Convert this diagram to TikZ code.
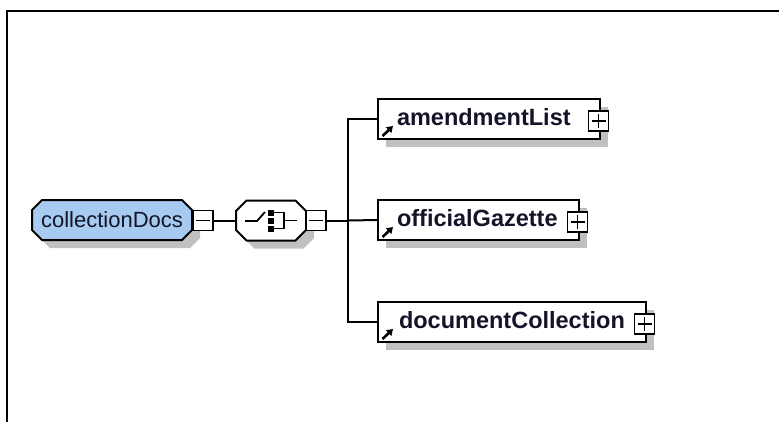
\documentclass[tikz,border=0pt]{standalone}
\usepackage{fontspec}
\setmainfont{Liberation Sans}
\usetikzlibrary{shadows,arrows.meta,calc,backgrounds}
\definecolor{rootblue}{RGB}{166,202,240}
\definecolor{shadowgray}{RGB}{192,192,192}
\definecolor{txt}{RGB}{20,20,40}
\newcommand\octapath[2]{([xshift=#2]#1.north west) -- ([xshift=-#2]#1.north east) -- ([yshift=-#2]#1.north east) -- ([yshift=#2]#1.south east) -- ([xshift=-#2]#1.south east) -- ([xshift=#2]#1.south west) -- ([yshift=#2]#1.south west) -- ([yshift=-#2]#1.north west) -- cycle}
\begin{document}
\begin{tikzpicture}[x=1pt,y=-1pt,
  every node/.style={inner sep=0pt, outer sep=0pt},
  shadowed/.style={drop shadow={shadow xshift=8pt,shadow yshift=-8pt,fill=shadowgray,opacity=1}},
  octbox/.style={rectangle, minimum height=40pt},
  rootfont/.style={font=\fontsize{22}{24}\selectfont, text=txt},
  octline/.style={draw, line width=2pt, shadowed},
  elem/.style={rectangle, draw, line width=2pt, fill=white, minimum height=40pt, shadowed},
  elemtext/.style={font=\bfseries\fontsize{23.5}{25}\selectfont, text=txt, anchor=base west},
  pmbox/.style={rectangle, draw, line width=1.6pt, fill=white, minimum size=20pt},
  conn/.style={line width=2pt},
  sign/.style={line width=1.6pt},
  refarrow/.style={line width=2.6pt, -{Triangle[length=6pt,width=7.5pt]}},
  symb/.style={line width=1.8pt}
]
\useasboundingbox (0,0) rectangle (779,421);
% frame
\draw[line width=2pt] (7,430) -- (7,11) -- (790,11);

% root element
\node[octbox, rootfont, minimum width=160pt] (root) at (112,220) {collectionDocs};
\begin{pgfonlayer}{background}
\path[octline, fill=rootblue] \octapath{root}{10pt};
\end{pgfonlayer}
\node[pmbox] (m1) at (203,220.5) {};
\draw[sign] ([xshift=3pt]m1.west) -- ([xshift=-3pt]m1.east);

% sequence compositor
\node[octbox, minimum width=70pt] (seq) at (271,220.5) {};
\begin{pgfonlayer}{background}
\path[octline, fill=white] \octapath{seq}{10.5pt};
\end{pgfonlayer}
\node[pmbox] (m2) at (316,220.5) {};
\draw[sign] ([xshift=3pt]m2.west) -- ([xshift=-3pt]m2.east);
% sequence symbol
\draw[symb] (245,221) -- (257,221) -- (265,212);
\fill (268,210) rectangle (274,215.5);
\fill (268,218) rectangle (274,223.5);
\fill (268,226) rectangle (274,231.5);
\draw[symb] (274,212.5) -- (284,212.5) -- (284,228.5) -- (274,228.5);
\draw[symb] (284,220.5) -- (297,220.5);

% children
\node[elem, minimum width=222pt] (a1) at (489,119) {};
\node[elem, minimum width=201pt] (a2) at (478.5,220) {};
\node[elem, minimum width=268pt] (a3) at (512,322) {};
\node[elemtext] (a1t) at ([xshift=19pt,yshift=-6pt]a1.west) {amendmentList};
\node[elemtext] (a2t) at ([xshift=19pt,yshift=-6pt]a2.west) {officialGazette};
\node[elemtext] (a3t) at ([xshift=21pt,yshift=-6pt]a3.west) {documentCollection};

% reference arrows
\foreach \n in {a1,a2,a3}{
  \draw[refarrow] ([xshift=4.5pt,yshift=3pt]\n.south west) -- ([xshift=15pt,yshift=13pt]\n.south west);
}

% plus boxes
\foreach \n/\p in {a1/p1,a2/p2,a3/p3}{
  \node[pmbox] (\p) at ([xshift=-1.5pt,yshift=-2pt]\n.east) {};
  \draw[sign] ([xshift=3pt]\p.west) -- ([xshift=-3pt]\p.east);
  \draw[sign] ([yshift=-3pt]\p.north) -- ([yshift=3pt]\p.south);
}

% connectors
\coordinate (j) at (348,220.5);
\draw[conn] (root.east) -- (m1.west);
\draw[conn] (m1.east) -- (seq.west);
\draw[conn] (seq.east) -- (m2.west);
\draw[conn] (m2.east) -- (j);
\draw[conn] (j) |- (a1.west);
\draw[conn] (j) -- (a2.west);
\draw[conn] (j) |- (a3.west);
\end{tikzpicture}
\end{document}
